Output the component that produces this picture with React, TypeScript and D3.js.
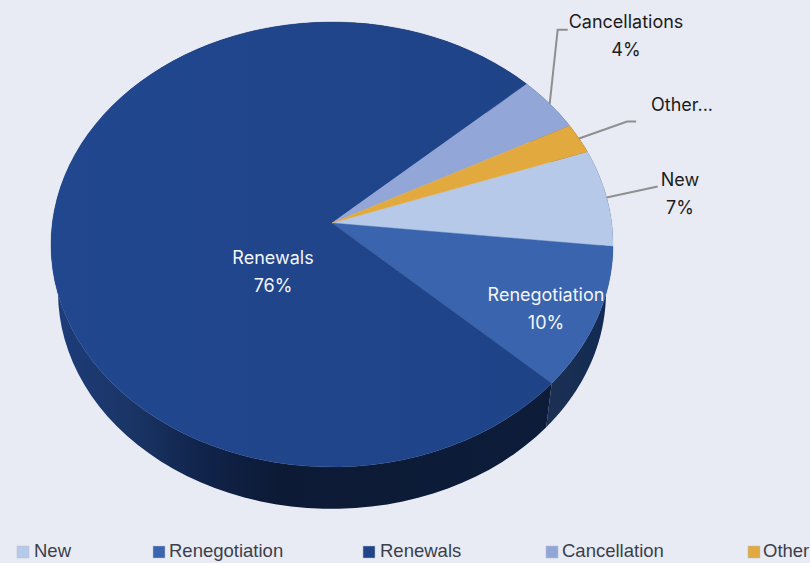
import React from "react";
import * as d3 from "d3";

const categories = ["New", "Renegotiation", "Renewals", "Cancellation", "Other"];
const shares = [7.1, 10.2, 76.4, 4.1, 2.2];
const sliceColors = ["#b7c9e9", "#3a65ae", "#1f4487", "#92a7d7", "#e2aa3e"];
const sliceLabels = [
  ["New", "7%"],
  ["Renegotiation", "10%"],
  ["Renewals", "76%"],
  ["Cancellations", "4%"],
  ["Other...", ""],
];
const labelCenters = [[680, 180], [546, 295], [273, 258], [626, 22], [682, 105]];
const labelColors = ["#1c1c1c", "#f4f6fb", "#f4f6fb", "#1c1c1c", "#1c1c1c"];
const leaderOffsets: (number[][] | null)[] = [
  [[51, -11]],
  null,
  null,
  [[8, -74], [18, -74]],
  [[48, -17], [57, -17]],
];
const legendSwatchX = [17, 153, 363, 546, 748];
const legendTextX = [34, 169, 380, 562, 763];

const W = 810, H = 563;
const apex = [332, 223];
const Rx = 279.7, Ry = 220.4, k = 0.0966;
const wallScale = 0.975, wallCy = 271;

// circle angle (clockwise from top) -> screen point on the perspective-tilted disc
function rim(a: number, ring = 1): [number, number] {
  const X = Math.sin(a) * ring, Y = -Math.cos(a) * ring;
  const d = 1 - k * Y;
  return [apex[0] + (Rx * X) / d, apex[1] + (Ry * Y) / d];
}
function lowerRim(a: number): [number, number] {
  const [x, y] = rim(a);
  return [apex[0] + wallScale * (x - apex[0]), wallCy + wallScale * (y - apex[1])];
}
const steps = (a0: number, a1: number) => d3.range(0, 91).map((i) => a0 + ((a1 - a0) * i) / 90);
const line = d3.line();

const pie = d3.pie<number>().sort(null).startAngle((70.5 * Math.PI) / 180).endAngle((430.5 * Math.PI) / 180);
const arcs = pie(shares);

export default function App() {
  return (
    <svg width={W} height={H} style={{ position: "absolute", left: 0, top: 0, background: "#e8ebf4" }}
      fontFamily="Inter, sans-serif">
      <defs>
        <linearGradient id="wallDark" gradientUnits="userSpaceOnUse" x1="55" x2="552" y1="0" y2="0">
          <stop offset="0" stopColor="#1d3c7a" />
          <stop offset="0.15" stopColor="#1a3566" />
          <stop offset="0.3" stopColor="#10234a" />
          <stop offset="0.45" stopColor="#0c1a35" />
          <stop offset="1" stopColor="#0d1c39" />
        </linearGradient>
        <linearGradient id="wallReneg" gradientUnits="userSpaceOnUse" x1="548" x2="610" y1="0" y2="0">
          <stop offset="0" stopColor="#1b3053" />
          <stop offset="1" stopColor="#122a52" />
        </linearGradient>
        <linearGradient id="topRenewals" gradientUnits="userSpaceOnUse" x1="50" x2="550" y1="0" y2="0">
          <stop offset="0" stopColor="#21478f" />
          <stop offset="1" stopColor="#1f4387" />
        </linearGradient>
      </defs>

      {arcs.map((d, i) => {
        const top = steps(d.startAngle, d.endAngle).map((a) => rim(a));
        const low = steps(d.startAngle, d.endAngle).map((a) => lowerRim(a)).reverse();
        return (
          <path key={"wall" + i} d={line([...top, ...low]) + "Z"}
            fill={i === 1 ? "url(#wallReneg)" : i === 2 ? "url(#wallDark)" : "#122a52"} />
        );
      })}

      {arcs.map((d, i) => {
        const pts = steps(d.startAngle, d.endAngle).map((a) => rim(a));
        return (
          <path key={"top" + i} d={line([apex as [number, number], ...pts]) + "Z"}
            fill={i === 2 ? "url(#topRenewals)" : sliceColors[i]}
            stroke={i === 2 ? "#1f4487" : sliceColors[i]} strokeWidth={0.4} />
        );
      })}

      {arcs.map((d, i) => {
        const off = leaderOffsets[i];
        if (!off) return null;
        const s = rim((d.startAngle + d.endAngle) / 2);
        const pts = [s, ...off.map((o) => [s[0] + o[0], s[1] + o[1]] as [number, number])];
        return <path key={"lead" + i} d={line(pts)!} fill="none" stroke="#8f8f8f" strokeWidth={2} />;
      })}

      {sliceLabels.map((lines, i) => (
        <text key={"lab" + i} textAnchor="middle" fontSize={18} fill={labelColors[i]}>
          {lines.map((t, j) => (
            <tspan key={j} x={labelCenters[i][0]} y={labelCenters[i][1] + 6 + j * 28}>{t}</tspan>
          ))}
        </text>
      ))}

      {categories.map((c, i) => (
        <g key={"leg" + i}>
          <rect x={legendSwatchX[i]} y={546} width={12} height={12} fill={sliceColors[i]} stroke="#b9bec9" strokeWidth={0.5} />
          <text x={legendTextX[i]} y={557} fontSize={18.5} fill="#3a3f4a" fontFamily="'Liberation Sans', sans-serif">{c}</text>
        </g>
      ))}
    </svg>
  );
}
